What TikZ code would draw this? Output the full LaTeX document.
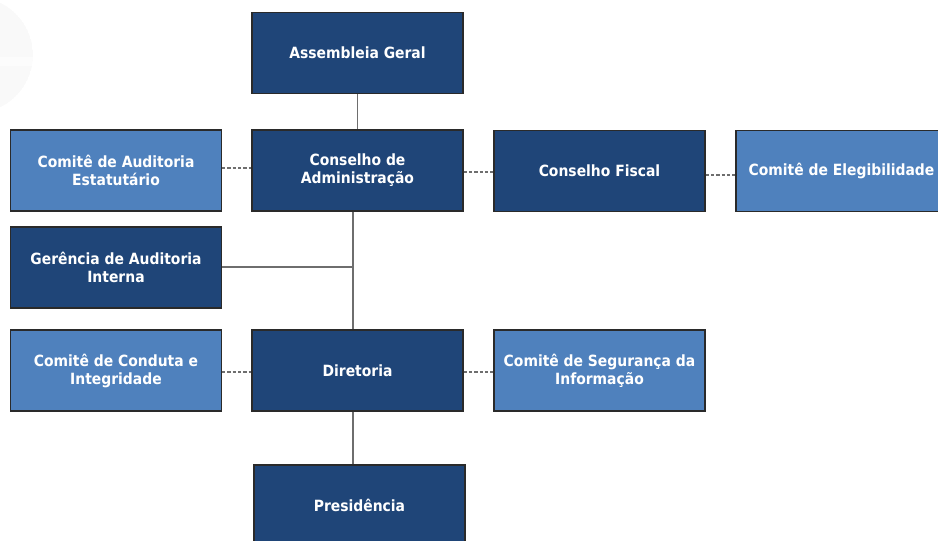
\documentclass[tikz,border=0pt]{standalone}
\usepackage{fontspec}
\setmainfont{DejaVu Sans Condensed}
\definecolor{dkblue}{HTML}{1F4578}
\definecolor{ltblue}{HTML}{4F81BD}
\definecolor{edge}{HTML}{2A2A2A}
\definecolor{conn}{HTML}{6E6E6E}
\begin{document}
\begin{tikzpicture}[x=0.75pt,y=-0.75pt,
  box/.style={draw=edge,line width=0.8pt,minimum width=158.25pt,minimum height=60.75pt,inner sep=2pt,align=center,text=white,font=\bfseries\fontsize{11.6}{13.5}\selectfont},
  dk/.style={box,fill=dkblue},
  lt/.style={box,fill=ltblue},
  solidc/.style={draw=conn,line width=1pt},
  dashc/.style={draw=conn,line width=1pt,dash pattern=on 2.5pt off 1.5pt}]
\useasboundingbox (0,0) rectangle (938,540);
\clip (0,0) rectangle (938,540);
% faint watermark
\begin{scope}
\clip (-25,55) circle (58);
\fill[gray!5] (-25,55) circle (58);
\fill[gray!2] (-90,57) rectangle (40,66);
\end{scope}
\node[dk] (ag) at (357.5,53) {Assembleia Geral};
\node[dk] (ca) at (357.5,170.5) {Conselho de\\Administração};
\node[lt] (cae) at (116,170.5) {Comitê de Auditoria\\Estatutário};
\node[dk] (cf) at (599.5,171) {Conselho Fiscal};
\node[lt] (ce) at (841.5,171) {Comitê de Elegibilidade};
\node[dk] (gai) at (116,267.5) {Gerência de Auditoria\\Interna};
\node[lt] (cci) at (116,370.5) {Comitê de Conduta e\\Integridade};
\node[dk] (dir) at (357.5,370.5) {Diretoria};
\node[lt] (csi) at (599.5,370.5) {Comitê de Segurança da\\Informação};
\node[dk] (pre) at (359.5,505.5) {Presidência};
\coordinate (j) at (353,267);
\draw[solidc] (ag.south) -- (ca.north);
\draw[solidc] (ca.south -| j) -- (dir.north -| j);
\draw[solidc] (gai.east |- j) -- (j);
\draw[solidc] (dir.south -| j) -- (pre.north -| j);
\draw[dashc] (cae.east |- 0,168) -- (ca.west |- 0,168);
\draw[dashc] (ca.east |- 0,172) -- (cf.west |- 0,172);
\draw[dashc] (cf.east |- 0,175) -- (ce.west |- 0,175);
\draw[dashc] (cci.east |- 0,372) -- (dir.west |- 0,372);
\draw[dashc] (dir.east |- 0,372) -- (csi.west |- 0,372);
\end{tikzpicture}
\end{document}
